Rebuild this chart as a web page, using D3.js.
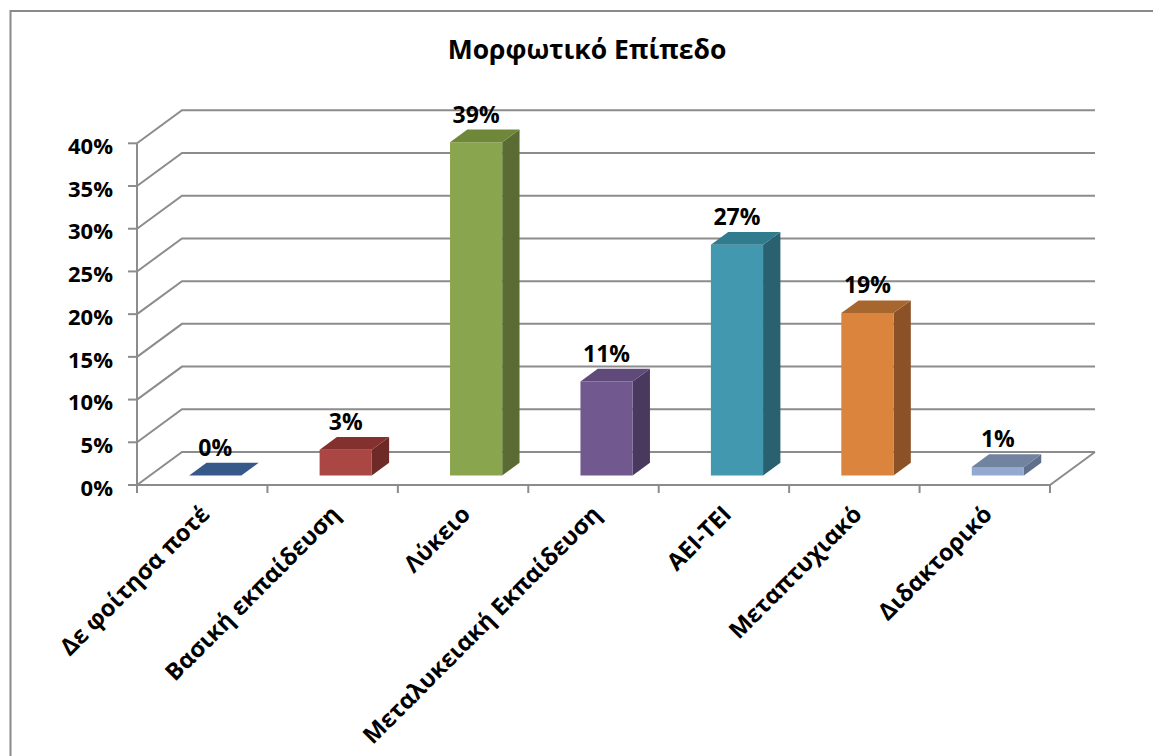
<!DOCTYPE html>
<html>
<head>
<meta charset="utf-8">
<script src="https://cdn.jsdelivr.net/npm/d3@7"></script>
<style>
  html, body { margin: 0; padding: 0; background: #fff; }
  svg { display: block; font-family: "Open Sans", "Noto Sans", sans-serif; }
</style>
</head>
<body>
<svg id="chart" width="1153" height="756"></svg>
<script>
// Education level distribution
const title = "Μορφωτικό Επίπεδο";
const categories = [
  "Δε φοίτησα ποτέ",
  "Βασική εκπαίδευση",
  "Λύκειο",
  "Μεταλυκειακή Εκπαίδευση",
  "ΑΕΙ-ΤΕΙ",
  "Μεταπτυχιακό",
  "Διδακτορικό"
];
const values = [0.00, 0.03, 0.39, 0.11, 0.27, 0.19, 0.01];
const yTicks = [0, 0.05, 0.10, 0.15, 0.20, 0.25, 0.30, 0.35, 0.40];

// face colours per bar: front, side, top
const frontColors = ["#3f6796", "#aa4643", "#89a54e", "#71588f", "#4198af", "#db843d", "#93a9cf"];
const sideColors  = ["#2c4a70", "#6e2a27", "#5a6b33", "#4a395e", "#2a6170", "#8b5227", "#5f6f8c"];
const topColors   = ["#36598a", "#83302e", "#6f8738", "#5f4a7a", "#307b8e", "#a8662f", "#7283a0"];

const svg = d3.select("#chart");

// plot geometry: front floor edge and the depth vector of the oblique box
const x0 = 137, x1 = 1050;
const depth = { dx: 45, dy: -33 };
const zFront = 0.29, zBack = 0.675;   // bar depth slice within the box

const x = d3.scaleBand().domain(categories).range([x0, x1]).paddingInner(0).paddingOuter(0);
const y = d3.scaleLinear().domain([0, 0.40]).range([485, 143.3]);

const gridColor = "#8c8c8c";

// outer chart border
svg.append("rect")
  .attr("x", 10.5).attr("y", 11)
  .attr("width", 1300).attr("height", 900)
  .attr("fill", "none").attr("stroke", "#8a8a8a").attr("stroke-width", 2);

// title
svg.append("text")
  .attr("x", 587).attr("y", 58.5)
  .attr("text-anchor", "middle")
  .attr("font-size", 26.5).attr("font-weight", 700)
  .attr("fill", "#000")
  .text(title);

// gridlines on the side wall and back wall
const grid = svg.append("g").attr("fill", "none").attr("stroke", gridColor).attr("stroke-width", 2);
yTicks.forEach(v => {
  const yy = y(v);
  grid.append("path").attr("d", d3.line()([
    [x0, yy],
    [x0 + depth.dx, yy + depth.dy],
    [x1 + depth.dx, yy + depth.dy]
  ]));
});

// floor front edge and right edge
grid.append("path").attr("d", d3.line()([
  [x0, y(0)], [x1, y(0)], [x1 + depth.dx, y(0) + depth.dy]
]));

// value axis
const axis = svg.append("g").attr("stroke", gridColor).attr("stroke-width", 2);
axis.append("line").attr("x1", x0).attr("x2", x0).attr("y1", y(0.40)).attr("y2", y(0));
yTicks.forEach(v => {
  axis.append("line").attr("x1", x0 - 9).attr("x2", x0).attr("y1", y(v)).attr("y2", y(v));
});
// category boundary ticks
const bounds = categories.map(c => x(c)).concat([x1]);
bounds.forEach(bx => {
  axis.append("line").attr("x1", bx).attr("x2", bx).attr("y1", y(0)).attr("y2", y(0) + 8);
});

// value tick labels
svg.append("g").selectAll("text").data(yTicks).join("text")
  .attr("x", 113).attr("y", d => y(d) + 3)
  .attr("dy", "0.35em")
  .attr("text-anchor", "end")
  .attr("font-size", 22).attr("font-weight", 700)
  .text(d => d3.format(".0%")(d));

// bars as oblique boxes
const bw = x.bandwidth() * 0.4;
const bars = svg.append("g");
values.forEach((v, i) => {
  const cx = x(categories[i]) + x.bandwidth() / 2;
  const fx = cx + depth.dx * zFront;
  const fyOff = depth.dy * zFront;
  const dz = zBack - zFront;
  const ddx = depth.dx * dz, ddy = depth.dy * dz;
  const left = fx - bw / 2, right = fx + bw / 2;
  const bottom = y(0) + fyOff, top = y(v) + fyOff;
  const g = bars.append("g");
  // side face
  g.append("path").attr("fill", sideColors[i]).attr("d", d3.line()([
    [right, top], [right + ddx, top + ddy], [right + ddx, bottom + ddy], [right, bottom]
  ]) + "Z");
  // front face
  g.append("path").attr("fill", frontColors[i]).attr("d", d3.line()([
    [left, top], [right, top], [right, bottom], [left, bottom]
  ]) + "Z");
  // top face
  g.append("path").attr("fill", topColors[i]).attr("d", d3.line()([
    [left, top], [right, top], [right + ddx, top + ddy], [left + ddx, top + ddy]
  ]) + "Z");
  // value label
  svg.append("text")
    .attr("x", fx).attr("y", top + ddy - 7)
    .attr("text-anchor", "middle")
    .attr("font-size", 23).attr("font-weight", 700)
    .text(d3.format(".0%")(v));
});

// category labels, rotated
svg.append("g").selectAll("text").data(categories).join("text")
  .attr("transform", d => `translate(${x(d) + x.bandwidth() / 2 + 3},${y(0) + 25}) rotate(-45)`)
  .attr("text-anchor", "end")
  .attr("dy", "0.35em")
  .attr("font-size", 23.5).attr("font-weight", 700)
  .text(d => d);
</script>
</body>
</html>
